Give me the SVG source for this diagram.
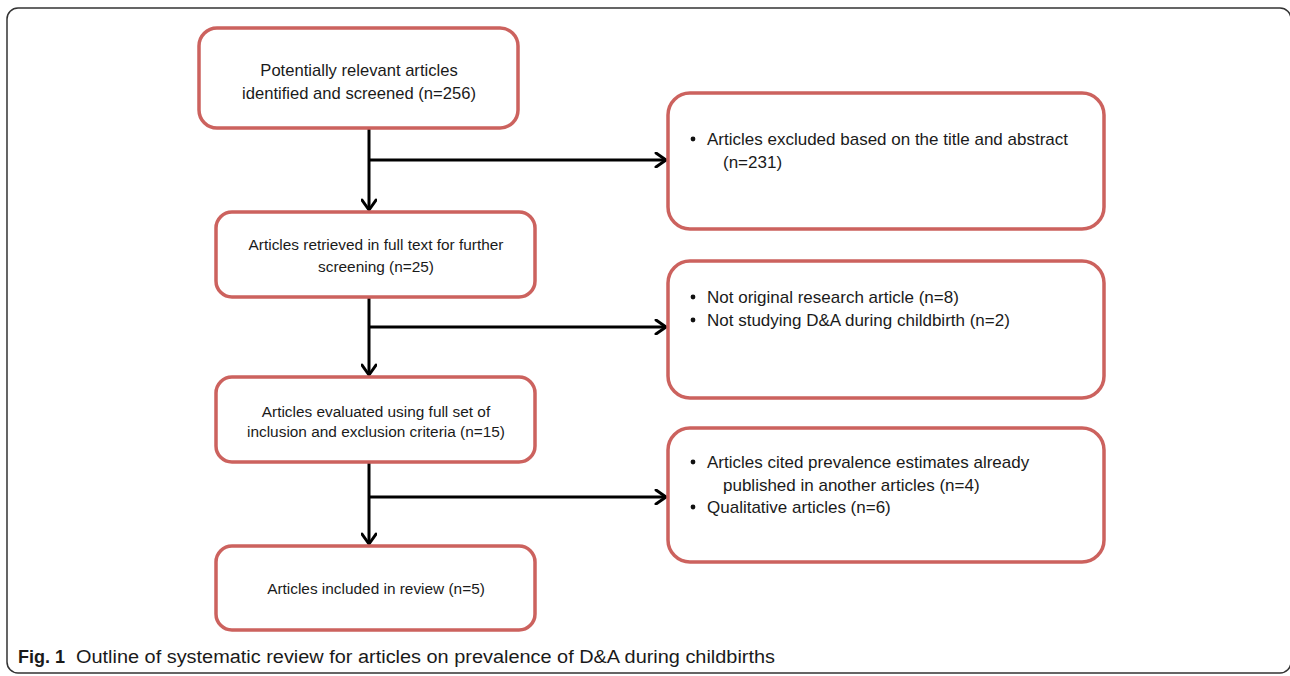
<svg xmlns="http://www.w3.org/2000/svg" width="1290" height="676" viewBox="0 0 1290 676">
  <defs>
    <marker id="arr" viewBox="0 0 14 16" refX="12" refY="8" markerWidth="14" markerHeight="16" markerUnits="userSpaceOnUse" orient="auto">
      <path d="M2,1 L12,8 L2,15" fill="none" stroke="#000" stroke-width="3" stroke-linecap="round" stroke-linejoin="round"/>
    </marker>
    <style>
      .box { fill: #fff; stroke: #cc625e; stroke-width: 3.5; }
      .t { font-family: "Liberation Sans", Arial, sans-serif; fill: #1a1a1a; }
      .c { text-anchor: middle; }
      .conn { stroke: #000; stroke-width: 3; fill: none; }
      .bul { fill: #111; }
    </style>
  </defs>
  <rect x="0" y="0" width="1290" height="676" fill="#fff"/>
  <rect x="7" y="8" width="1284" height="665" rx="11" fill="none" stroke="#333" stroke-width="1.5"/>

  <g id="connectors">
    <line class="conn" x1="369" y1="128" x2="369" y2="210" marker-end="url(#arr)"/>
    <line class="conn" x1="369" y1="160" x2="666" y2="160" marker-end="url(#arr)"/>
    <line class="conn" x1="369" y1="297" x2="369" y2="375" marker-end="url(#arr)"/>
    <line class="conn" x1="369" y1="327" x2="666" y2="327" marker-end="url(#arr)"/>
    <line class="conn" x1="369" y1="462" x2="369" y2="544" marker-end="url(#arr)"/>
    <line class="conn" x1="369" y1="497" x2="666" y2="497" marker-end="url(#arr)"/>
  </g>

  <g id="n1">
    <rect class="box" x="199" y="28" width="319" height="100" rx="18"/>
    <text class="t c" x="359" y="76" font-size="16.6">Potentially relevant articles</text>
    <text class="t c" x="359" y="99" font-size="16.6">identified and screened (n=256)</text>
  </g>
  <g id="n2">
    <rect class="box" x="216" y="212" width="319" height="85" rx="16"/>
    <text class="t c" x="376" y="250" font-size="15.4">Articles retrieved in full text for further</text>
    <text class="t c" x="376" y="272" font-size="15.4">screening (n=25)</text>
  </g>
  <g id="n3">
    <rect class="box" x="216" y="377" width="319" height="85" rx="16"/>
    <text class="t c" x="376" y="417" font-size="15.4">Articles evaluated using full set of</text>
    <text class="t c" x="376" y="437" font-size="15.4">inclusion and exclusion criteria (n=15)</text>
  </g>
  <g id="n4">
    <rect class="box" x="216" y="546" width="319" height="84" rx="16"/>
    <text class="t c" x="376" y="594" font-size="15.4">Articles included in review (n=5)</text>
  </g>
  <g id="r1">
    <rect class="box" x="668" y="93" width="436" height="136" rx="22"/>
    <circle class="bul" cx="693" cy="139" r="2.4"/>
    <text class="t" x="707" y="145" font-size="17">Articles excluded based on the title and abstract</text>
    <text class="t" x="723" y="168" font-size="17">(n=231)</text>
  </g>
  <g id="r2">
    <rect class="box" x="668" y="261" width="436" height="137" rx="22"/>
    <circle class="bul" cx="693" cy="297" r="2.4"/>
    <text class="t" x="707" y="303" font-size="17">Not original research article (n=8)</text>
    <circle class="bul" cx="693" cy="320" r="2.4"/>
    <text class="t" x="707" y="326" font-size="17">Not studying D&amp;A during childbirth (n=2)</text>
  </g>
  <g id="r3">
    <rect class="box" x="668" y="428" width="436" height="134" rx="22"/>
    <circle class="bul" cx="693" cy="462" r="2.4"/>
    <text class="t" x="707" y="468" font-size="17">Articles cited prevalence estimates already</text>
    <text class="t" x="723" y="491" font-size="17">published in another articles (n=4)</text>
    <circle class="bul" cx="693" cy="507" r="2.4"/>
    <text class="t" x="707" y="513" font-size="17">Qualitative articles (n=6)</text>
  </g>

  <g id="caption">
    <text class="t" x="18" y="663" font-size="18" font-weight="bold">Fig. 1</text>
    <text class="t" x="76" y="663" font-size="18" fill="#222" textLength="699" lengthAdjust="spacingAndGlyphs">Outline of systematic review for articles on prevalence of D&amp;A during childbirths</text>
  </g>
</svg>
